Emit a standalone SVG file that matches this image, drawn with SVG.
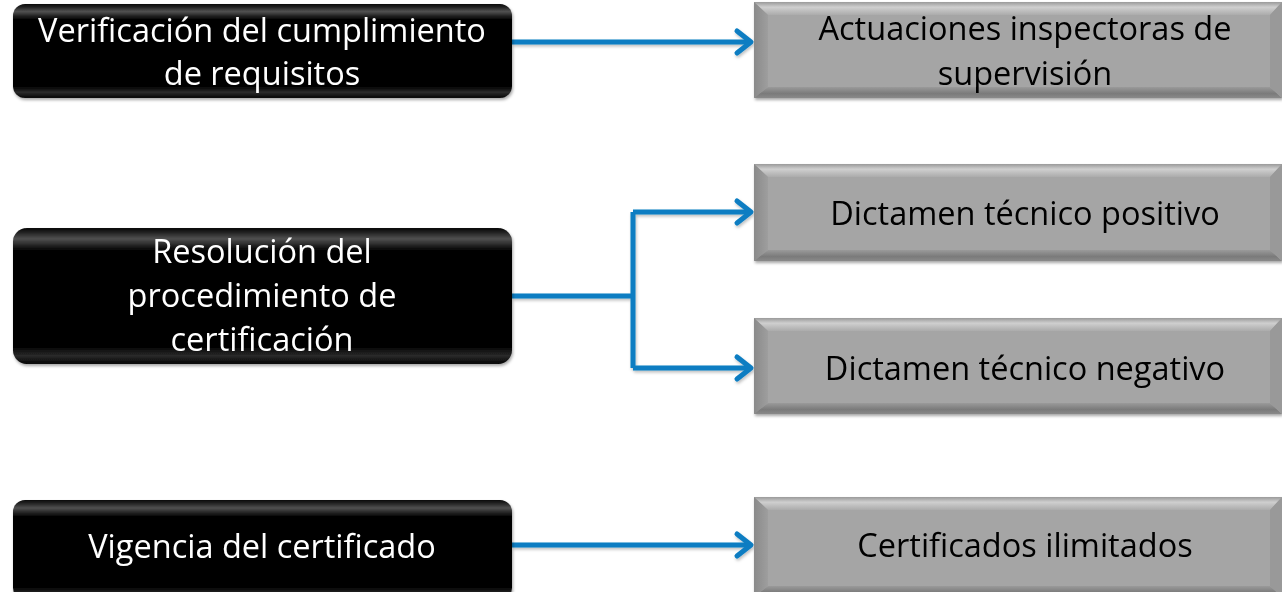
<svg xmlns="http://www.w3.org/2000/svg" width="1282" height="592" viewBox="0 0 1282 592">
<defs>
<style>
.bt{font-family:"Open Sans","Noto Sans",sans-serif;font-size:32.5px;fill:#fff;text-anchor:middle;font-variant-ligatures:none}
.gt{font-family:"Open Sans","Noto Sans",sans-serif;font-size:32.5px;fill:#000;text-anchor:middle;font-variant-ligatures:none}
.con{fill:none;stroke:#0A7DC2;stroke-width:5;stroke-linejoin:round;stroke-linecap:butt}
.head{fill:none;stroke:#0A7DC2;stroke-width:5;stroke-linecap:round;stroke-linejoin:round}
.face{fill:#A5A5A5}
.bt-top{fill:url(#topB)}
.bt-left{fill:url(#leftB)}
.bt-bot{fill:url(#botB)}
.bt-right{fill:#999}
</style>
<linearGradient id="gloss" x1="0" y1="0" x2="0" y2="1">
<stop offset="0" stop-color="#fff" stop-opacity="0"/>
<stop offset="0.08" stop-color="#fff" stop-opacity="0.3"/>
<stop offset="0.16" stop-color="#fff" stop-opacity="0"/>
<stop offset="0.88" stop-color="#fff" stop-opacity="0"/>
<stop offset="0.94" stop-color="#fff" stop-opacity="0.15"/>
<stop offset="1" stop-color="#fff" stop-opacity="0"/>
</linearGradient>
<linearGradient id="topB" x1="0" y1="0" x2="0" y2="1">
<stop offset="0" stop-color="#9A9A9A"/>
<stop offset="0.4" stop-color="#CFCFCF"/>
<stop offset="1" stop-color="#ABABAB"/>
</linearGradient>
<linearGradient id="leftB" x1="0" y1="0" x2="1" y2="0">
<stop offset="0" stop-color="#8A8A8A"/>
<stop offset="1" stop-color="#9E9E9E"/>
</linearGradient>
<linearGradient id="botB" x1="0" y1="0" x2="0" y2="1">
<stop offset="0" stop-color="#9A9A9A"/>
<stop offset="0.6" stop-color="#7A7A7A"/>
<stop offset="1" stop-color="#8A8A8A"/>
</linearGradient>
<filter id="sh" x="-5%" y="-10%" width="110%" height="125%">
<feDropShadow dx="1" dy="2" stdDeviation="1.5" flood-color="#000" flood-opacity="0.35"/>
</filter>
<filter id="lsh" x="-5%" y="-50%" width="110%" height="200%">
<feDropShadow dx="1" dy="2" stdDeviation="1.5" flood-color="#000" flood-opacity="0.25"/>
</filter>
</defs>

<g id="connectors" filter="url(#lsh)">
<path class="con" d="M512 42 H750"/>
<path class="head" d="M737 31 L751 42 L737 53"/>
<path class="con" d="M512 296 H633 M633 212 V368 M633 212 H750 M633 368 H750"/>
<path class="head" d="M737 201 L751 212 L737 223"/>
<path class="head" d="M737 357 L751 368 L737 379"/>
<path class="con" d="M512 545 H750"/>
<path class="head" d="M737 534 L751 545 L737 556"/>
</g>

<g id="n1" filter="url(#sh)">
<rect x="13" y="4" width="499" height="94" rx="12" fill="#050505"/>
<rect x="13" y="4" width="499" height="94" rx="12" fill="url(#gloss)"/>
<text class="bt" x="262" y="42">Verificación del cumplimiento</text>
<text class="bt" x="262" y="85">de requisitos</text>
</g>
<g id="n2" filter="url(#sh)">
<rect x="13" y="228" width="499" height="136" rx="14" fill="#050505"/>
<rect x="13" y="228" width="499" height="136" rx="14" fill="url(#gloss)"/>
<text class="bt" x="262" y="263">Resolución del</text>
<text class="bt" x="262" y="307">procedimiento de</text>
<text class="bt" x="262" y="351">certificación</text>
</g>
<g id="n3" filter="url(#sh)">
<rect x="13" y="500" width="499" height="100" rx="12" fill="#050505"/>
<rect x="13" y="500" width="499" height="100" rx="12" fill="url(#gloss)"/>
<text class="bt" x="262" y="558">Vigencia del certificado</text>
</g>

<g id="g1" filter="url(#sh)">
<rect class="face" x="754" y="2" width="528" height="96"/>
<polygon class="bt-top" points="754,2 1282,2 1270,15 768,15"/>
<polygon class="bt-left" points="754,2 768,15 768,87 754,98"/>
<polygon class="bt-bot" points="754,98 768,87 1270,87 1282,98"/>
<polygon class="bt-right" points="1282,2 1270,15 1270,87 1282,98"/>
<text class="gt" x="1025" y="40">Actuaciones inspectoras de</text>
<text class="gt" x="1025" y="85">supervisión</text>
</g>
<g id="g2" filter="url(#sh)">
<rect class="face" x="754" y="164" width="528" height="97"/>
<polygon class="bt-top" points="754,164 1282,164 1270,177 768,177"/>
<polygon class="bt-left" points="754,164 768,177 768,250 754,261"/>
<polygon class="bt-bot" points="754,261 768,250 1270,250 1282,261"/>
<polygon class="bt-right" points="1282,164 1270,177 1270,250 1282,261"/>
<text class="gt" x="1025" y="225">Dictamen técnico positivo</text>
</g>
<g id="g3" filter="url(#sh)">
<rect class="face" x="754" y="318" width="528" height="96"/>
<polygon class="bt-top" points="754,318 1282,318 1270,331 768,331"/>
<polygon class="bt-left" points="754,318 768,331 768,403 754,414"/>
<polygon class="bt-bot" points="754,414 768,403 1270,403 1282,414"/>
<polygon class="bt-right" points="1282,318 1270,331 1270,403 1282,414"/>
<text class="gt" x="1025" y="380">Dictamen técnico negativo</text>
</g>
<g id="g4" filter="url(#sh)">
<rect class="face" x="754" y="497" width="528" height="100"/>
<polygon class="bt-top" points="754,497 1282,497 1270,510 768,510"/>
<polygon class="bt-left" points="754,497 768,510 768,586 754,597"/>
<polygon class="bt-bot" points="754,597 768,586 1270,586 1282,597"/>
<polygon class="bt-right" points="1282,497 1270,510 1270,586 1282,597"/>
<text class="gt" x="1025" y="557">Certificados ilimitados</text>
</g>
</svg>
